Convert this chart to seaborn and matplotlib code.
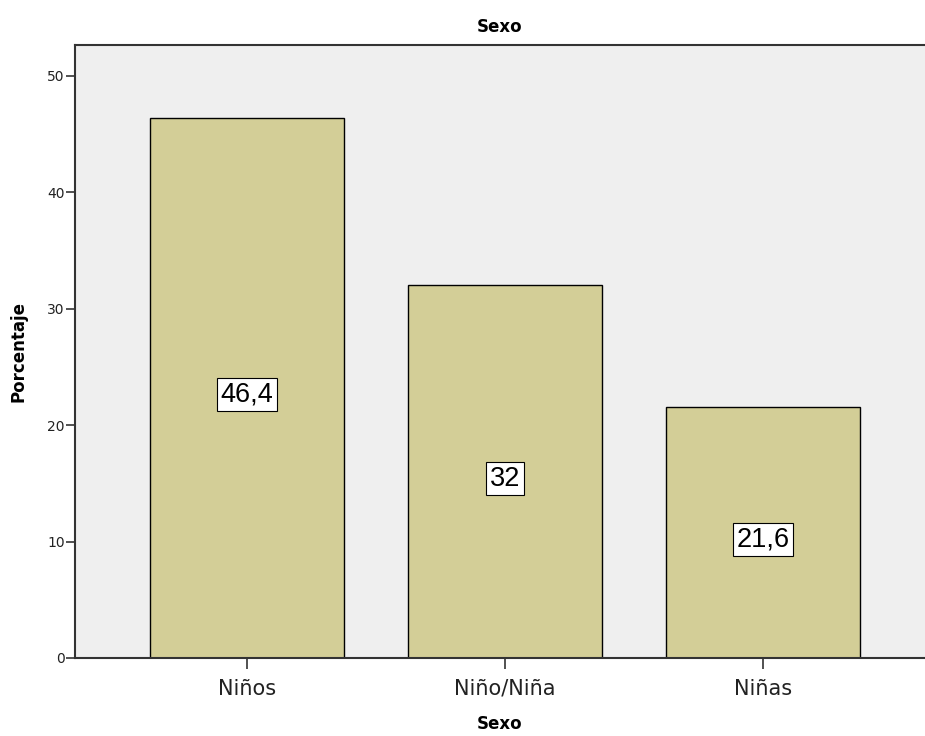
import matplotlib.pyplot as plt
import seaborn as sns
import pandas as pd

# Data
categories = ["Niños", "Niño/Niña", "Niñas"]
percentages = [46.4, 32, 21.6]
value_labels = ["46,4", "32", "21,6"]

df = pd.DataFrame({"Sexo": categories, "Porcentaje": percentages})

sns.set_style("white")
plt.rcParams['font.family'] = ['DejaVu Sans']

fig = plt.figure(figsize=(9.25, 7.36), dpi=100)
ax = fig.add_axes([0.0811, 0.106, 0.9189, 0.8329])
ax.set_facecolor("#efefef")

sns.barplot(data=df, x="Sexo", y="Porcentaje", color="#d3ce97", saturation=1,
            width=0.755, edgecolor="black", linewidth=1.0, ax=ax)

# Value labels in white boxes at bar centers
for patch, lab in zip(ax.patches, value_labels):
    x = patch.get_x() + patch.get_width() / 2
    y = patch.get_height() / 2
    ax.annotate(lab, (x, y), xytext=(0, -5), textcoords="offset points",
                ha="center", va="center", fontsize=19.5, color="black",
                fontfamily="Liberation Sans",
                bbox=dict(boxstyle="square,pad=0.13", fc="white", ec="black", lw=0.8))

ax.set_xlim(-0.667, 2.628)
ax.set_ylim(0, 52.66)
ax.set_yticks([0, 10, 20, 30, 40, 50])

ax.set_title("Sexo", fontsize=12, fontweight="bold", pad=9, color="black")
ax.set_xlabel("Sexo", fontsize=12, fontweight="bold", labelpad=12, color="black")
ax.set_ylabel("Porcentaje", fontsize=12, fontweight="bold", labelpad=14, color="black")

ax.tick_params(axis="x", labelsize=15, length=8, width=1.2, color="#333333",
               direction="out", bottom=True, labelcolor="#222222", pad=7)
ax.tick_params(axis="y", labelsize=10, length=6.5, width=1.2, color="#333333",
               direction="out", left=True, labelcolor="#222222", pad=1)

for side in ["left", "top", "bottom"]:
    ax.spines[side].set_color("#333333")
    ax.spines[side].set_linewidth(1.5)
ax.spines["right"].set_visible(False)

fig.savefig("out.png", dpi=100)
plt.close(fig)
